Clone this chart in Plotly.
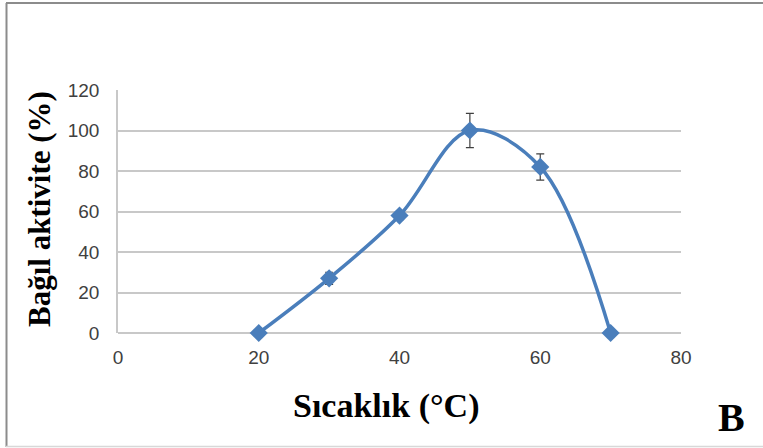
import plotly.graph_objects as go

# Temperature (°C) vs relative activity (%)
temperature = [20, 30, 40, 50, 60, 70]
activity = [0, 27, 58, 100, 82, 0]
activity_err = [0, 3, 2, 8.5, 6.5, 0]

x_ticks = [0, 20, 40, 60, 80]
y_ticks = [0, 20, 40, 60, 80, 100, 120]

blue = "#4A7EBB"
grid = "#C8C8C8"
tick_font = dict(family="Liberation Sans, Arial", size=19, color="#404040")
serif = "Liberation Serif, Times New Roman"

fig = go.Figure()
fig.add_trace(go.Scatter(
    x=temperature,
    y=activity,
    mode="lines+markers",
    line=dict(color=blue, width=3.5, shape="spline", smoothing=1.0),
    marker=dict(symbol="diamond", size=14, color=blue),
    error_y=dict(type="data", array=activity_err, visible=True,
                 color="#404040", thickness=1.2, width=4),
    cliponaxis=False,
    showlegend=False,
    hoverinfo="x+y",
))

fig.update_xaxes(
    range=[0, 80], tickvals=x_ticks, showgrid=False, zeroline=False,
    showline=False, ticks="", tickfont=tick_font, ticklabelstandoff=11,
)
fig.update_yaxes(
    range=[0, 120], tickvals=y_ticks, showgrid=True, gridcolor=grid,
    gridwidth=1.5, zeroline=True, zerolinecolor=grid, zerolinewidth=1.5,
    showline=True, linecolor=grid, linewidth=1.5, ticks="",
    tickfont=tick_font, ticklabelstandoff=13, layer="below traces",
)

W, H = 763, 448
l, r, t, b = 118, 82, 90, 115
pw, ph = W - l - r, H - t - b


def px(x):
    return (x - l) / pw


def py(y):
    return (H - b - y) / ph


fig.update_layout(
    width=W, height=H,
    margin=dict(l=l, r=r, t=t, b=b),
    paper_bgcolor="white", plot_bgcolor="white",
    annotations=[
        dict(text="<b>Bağıl aktivite (%)</b>", x=px(39), y=py(209),
             xref="paper", yref="paper", showarrow=False, textangle=-90,
             font=dict(family=serif, size=31, color="black"),
             xanchor="center", yanchor="middle"),
        dict(text="<b>Sıcaklık (°C)</b>", x=px(386), y=py(406),
             xref="paper", yref="paper", showarrow=False,
             font=dict(family=serif, size=34, color="black"),
             xanchor="center", yanchor="middle"),
        dict(text="<b>B</b>", x=px(731), y=py(417),
             xref="paper", yref="paper", showarrow=False,
             font=dict(family=serif, size=40, color="black"),
             xanchor="center", yanchor="middle"),
    ],
)

# Frame around the figure
fig.add_shape(type="line", xref="paper", yref="paper",
              x0=px(6), x1=px(W), y0=py(3), y1=py(3),
              line=dict(color="#8C8C8C", width=2))
fig.add_shape(type="line", xref="paper", yref="paper",
              x0=px(6.5), x1=px(6.5), y0=py(3), y1=py(447),
              line=dict(color="#8C8C8C", width=2))
fig.add_shape(type="line", xref="paper", yref="paper",
              x0=px(6), x1=px(W), y0=py(446.5), y1=py(446.5),
              line=dict(color="#D8D8D8", width=1.5))

fig.write_html("out.html")
